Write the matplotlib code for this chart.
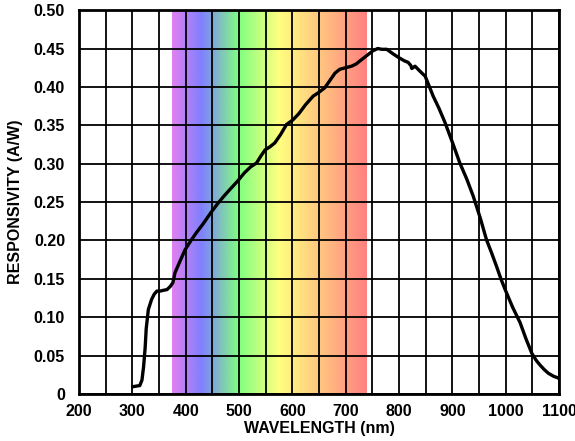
import numpy as np
import matplotlib.pyplot as plt
from matplotlib.colors import LinearSegmentedColormap

plt.rcParams['font.family'] = ['Liberation Sans', 'DejaVu Sans']
plt.rcParams['font.weight'] = 'bold'

# responsivity curve
wavelength = [301, 314, 318, 321, 324, 326, 330, 336, 341, 346, 352, 358, 365, 371, 376,
              380, 390, 399, 410, 420, 433, 447, 460, 472, 485, 497, 510, 522, 533, 541,
              549, 558, 567, 578, 589, 601, 612, 625, 639, 650, 661, 672, 680, 689, 700,
              711, 720, 727, 740, 751, 760, 768, 777, 789, 800, 810, 817, 822, 824, 830,
              840, 849, 856, 864, 875, 886, 900, 914, 927, 939, 952, 964, 974, 983, 991,
              999, 1013, 1027, 1038, 1049, 1057, 1064, 1072, 1080, 1090, 1098, 1100]
responsivity = [0.0095, 0.011, 0.018, 0.035, 0.060, 0.085, 0.110, 0.123, 0.130, 0.134, 0.134,
                0.135, 0.136, 0.140, 0.145, 0.158, 0.174, 0.188, 0.200, 0.210, 0.222, 0.236,
                0.248, 0.258, 0.268, 0.277, 0.288, 0.296, 0.301, 0.310, 0.318, 0.322, 0.327,
                0.338, 0.351, 0.357, 0.365, 0.377, 0.388, 0.393, 0.399, 0.410, 0.418, 0.423,
                0.425, 0.427, 0.430, 0.434, 0.441, 0.447, 0.450, 0.449, 0.449, 0.443, 0.438,
                0.434, 0.432, 0.428, 0.424, 0.427, 0.420, 0.414, 0.402, 0.388, 0.372, 0.354,
                0.328, 0.301, 0.280, 0.258, 0.230, 0.201, 0.183, 0.166, 0.150, 0.136, 0.113,
                0.093, 0.072, 0.053, 0.044, 0.038, 0.032, 0.027, 0.023, 0.021, 0.020]

# visible band
band_start, band_end = 375, 740
band_nm = [375, 430, 500, 575, 650, 740]
band_colors = ['#e080f0', '#8080ff', '#80ff80', '#ffff80', '#ffc880', '#ff8080']

fig, ax = plt.subplots(figsize=(5.75, 4.41), dpi=100)
fig.subplots_adjust(left=0.1374, right=0.9722, bottom=0.1066, top=0.977)

stops = [(n - band_start) / (band_end - band_start) for n in band_nm]
cmap = LinearSegmentedColormap.from_list('spectrum', list(zip(stops, band_colors)))
grad = np.linspace(0, 1, 512).reshape(1, -1)
ax.imshow(grad, cmap=cmap, aspect='auto', extent=[band_start, band_end, 0, 0.5],
          origin='lower', zorder=0)

ax.plot(wavelength, responsivity, color='black', lw=2.4, zorder=3)

ax.set_xlim(200, 1100)
ax.set_ylim(0, 0.5)
ax.set_xticks(np.arange(200, 1101, 100))
ax.set_xticks(np.arange(250, 1100, 100), minor=True)
ax.set_yticks(np.arange(0, 0.501, 0.05))
ax.set_yticklabels(['0'] + ['%.2f' % v for v in np.arange(0.05, 0.501, 0.05)])
ax.grid(True, which='both', color='black', lw=1.3)
ax.tick_params(which='both', length=0, labelsize=11.5)
ax.tick_params(axis='x', pad=7)
ax.tick_params(axis='y', pad=10)
for s in ax.spines.values():
    s.set_linewidth(2)

ax.set_xlabel('WAVELENGTH (nm)', fontsize=11.5, fontweight='bold', labelpad=2)
ax.set_ylabel('RESPONSIVITY (A/W)', fontsize=11.5, fontweight='bold', labelpad=8)

fig.savefig('out.png', dpi=100)
